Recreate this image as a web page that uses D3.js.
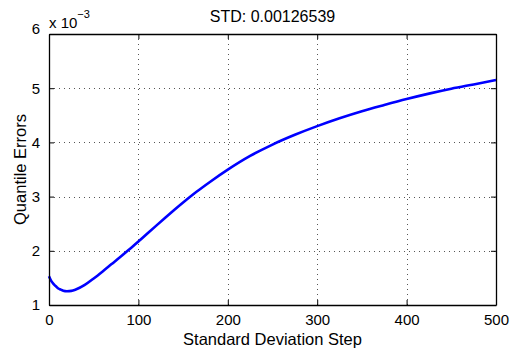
<!DOCTYPE html>
<html>
<head>
<meta charset="utf-8">
<script src="https://cdn.jsdelivr.net/npm/d3@7"></script>
<style>
  html, body { margin: 0; padding: 0; background: #fff; }
  svg { display: block; font-family: "Liberation Sans", Arial, Helvetica, sans-serif; }
</style>
</head>
<body>
<svg id="chart" width="517" height="353"></svg>
<script>
// Data (y values in units of 1e-3)
const steps  = [0, 2, 4, 6, 8, 10, 13, 16, 20, 25, 30, 40, 50, 60, 70, 80, 90, 100, 110, 120, 130, 140, 150, 165, 180, 200, 225, 250, 275, 300, 325, 350, 375, 400, 425, 450, 475, 500];
const errors = [1.53, 1.46, 1.41, 1.37, 1.34, 1.31, 1.285, 1.265, 1.255, 1.26, 1.285, 1.37, 1.49, 1.62, 1.755, 1.89, 2.03, 2.17, 2.318, 2.465, 2.61, 2.752, 2.89, 3.088, 3.27, 3.497, 3.75, 3.96, 4.14, 4.30, 4.445, 4.575, 4.69, 4.80, 4.90, 4.99, 5.07, 5.15];
const xTicks = [0, 100, 200, 300, 400, 500];
const yTicks = [1, 2, 3, 4, 5, 6];
const titleText = "STD: 0.00126539";
const xLabel = "Standard Deviation Step";
const yLabel = "Quantile Errors";

const svg = d3.select("#chart");
const L = 49, R = 496, T = 34, B = 305;
const x = d3.scaleLinear().domain([0, 500]).range([L, R]);
const y = d3.scaleLinear().domain([1, 6]).range([B, T]);

// Grid
const grid = svg.append("g").attr("stroke", "#555").attr("stroke-width", 1).attr("stroke-dasharray", "1,4");
grid.selectAll("line.gx").data(xTicks.slice(1, -1)).enter().append("line")
  .attr("x1", d => Math.round(x(d)) + 0.5).attr("x2", d => Math.round(x(d)) + 0.5)
  .attr("y1", T).attr("y2", B);
grid.selectAll("line.gy").data(yTicks.slice(1, -1)).enter().append("line")
  .attr("y1", d => Math.round(y(d)) + 0.5).attr("y2", d => Math.round(y(d)) + 0.5)
  .attr("x1", L).attr("x2", R);

// Curve
const line = d3.line().x((d, i) => x(steps[i])).y(d => y(d)).curve(d3.curveMonotoneX);
svg.append("path").datum(errors).attr("d", line)
  .attr("fill", "none").attr("stroke", "#0000ff").attr("stroke-width", 2.6)
  .attr("stroke-linejoin", "round");

// Axes
const tickLen = 5;
const fs = 15;
const fmt = d3.format("d");
const axB = svg.append("g").attr("transform", `translate(0,${B})`)
  .call(d3.axisBottom(x).tickValues(xTicks).tickFormat(fmt).tickSizeInner(-tickLen).tickSizeOuter(0).tickPadding(9));
const axT = svg.append("g").attr("transform", `translate(0,${T})`)
  .call(d3.axisTop(x).tickValues(xTicks).tickSizeInner(-tickLen).tickSizeOuter(0).tickFormat(""));
const axL = svg.append("g").attr("transform", `translate(${L},0)`)
  .call(d3.axisLeft(y).tickValues(yTicks).tickFormat(fmt).tickSizeInner(-tickLen).tickSizeOuter(0).tickPadding(9));
const axR = svg.append("g").attr("transform", `translate(${R},0)`)
  .call(d3.axisRight(y).tickValues(yTicks).tickSizeInner(-tickLen).tickSizeOuter(0).tickFormat(""));
[axB, axT, axL, axR].forEach(a => {
  a.select(".domain").attr("stroke", "#000").attr("stroke-width", 1.3);
  a.selectAll(".tick line").attr("stroke", "#000").attr("stroke-width", 1);
  a.selectAll("text").attr("fill", "#000").attr("font-size", fs)
    .attr("font-family", "'Liberation Sans', Arial, Helvetica, sans-serif");
});
axL.selectAll(".tick").filter(d => d === 6).select("text").attr("dy", "-0.05em");

// Exponent label
const ex = svg.append("text").attr("x", 49).attr("y", 28).attr("font-size", 15).attr("fill", "#000");
ex.append("tspan").text("x 10");
ex.append("tspan").attr("font-size", 11).attr("dy", -10).text("\u22123");

// Title
svg.append("text").attr("x", (L + R) / 2).attr("y", 22).attr("text-anchor", "middle")
  .attr("font-size", 16).attr("fill", "#000").text(titleText);

// X label
svg.append("text").attr("x", (L + R) / 2).attr("y", 345).attr("text-anchor", "middle")
  .attr("font-size", 16.5).attr("fill", "#000").text(xLabel);

// Y label
svg.append("text").attr("transform", `translate(26,${(T + B) / 2}) rotate(-90)`)
  .attr("text-anchor", "middle").attr("font-size", 16.5).attr("fill", "#000").text(yLabel);
</script>
</body>
</html>
